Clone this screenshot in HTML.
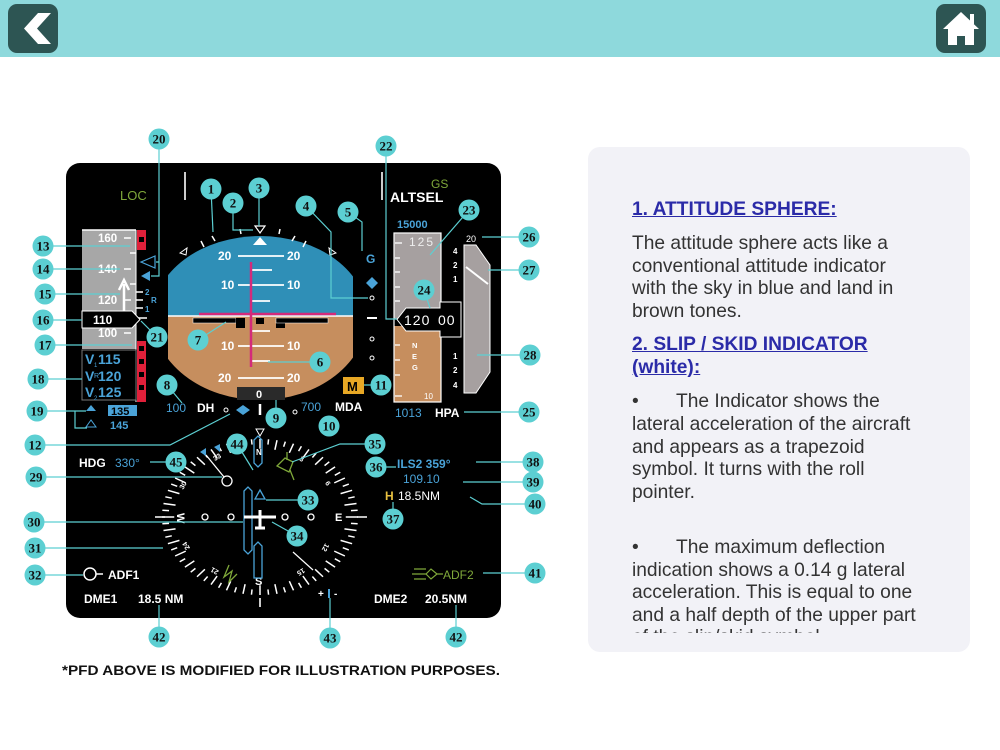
<!DOCTYPE html>
<html><head><meta charset="utf-8"><style>
html,body{margin:0;padding:0;width:1000px;height:750px;overflow:hidden;background:#fff;font-family:"Liberation Sans",sans-serif}
#bar{position:absolute;left:0;top:0;width:1000px;height:57px;background:#8ed9dc}
.btn{position:absolute;top:4px;width:50px;height:49px;background:#2d5553;border-radius:9px}
#panel{position:absolute;left:588px;top:147px;width:382px;height:505px;background:#f2f2f7;border-radius:12px;overflow:hidden}
#txt{position:absolute;left:44px;top:51px;width:290px;height:435px;overflow:hidden;font-size:19.2px;line-height:22.6px;color:#333}
h3{margin:0;font-size:19.2px;line-height:23px;color:#2b2ba8;text-decoration:underline;font-weight:bold}
p{margin:0}
svg{position:absolute;left:0;top:0}
</style></head><body>
<div id="bar"></div>
<div class="btn" style="left:8px"><svg width="50" height="49" viewBox="0 0 50 49"><polygon points="30,9 43,9 29,24.5 43,40 30,40 16,24.5" fill="#fff"/></svg></div>
<div class="btn" style="left:936px"><svg width="50" height="49" viewBox="0 0 50 49"><polygon points="25,8 43,25 38,25 38,41 29,41 29,32 21,32 21,41 12,41 12,25 7,25" fill="#fff"/><rect x="34" y="10" width="4" height="10" fill="#fff"/></svg></div>
<div id="panel"><div id="txt">
<h3 style="margin-bottom:12px">1. ATTITUDE SPHERE:</h3>
<p>The attitude sphere acts like a conventional attitude indicator with the sky in blue and land in brown tones.</p>
<h3 style="margin-top:10px;margin-bottom:12px">2. SLIP / SKID INDICATOR (white):</h3>
<p>•&nbsp;&nbsp;&nbsp;&nbsp;&nbsp;&nbsp;&nbsp;The Indicator shows the lateral acceleration of the aircraft and appears as a trapezoid symbol. It turns with the roll pointer.</p>
<p>&nbsp;</p>
<p style="margin-top:10px">•&nbsp;&nbsp;&nbsp;&nbsp;&nbsp;&nbsp;&nbsp;The maximum deflection indication shows a 0.14 g lateral acceleration. This is equal to one and a half depth of the upper part of the slip/skid symbol (trapezoid).</p>
</div></div>

<svg width="1000" height="750" viewBox="0 0 1000 750" font-family="Liberation Sans, sans-serif">
<defs>
<clipPath id="sph"><rect x="168" y="200" width="185" height="220"/></clipPath>
</defs>
<rect x="66" y="163" width="435" height="455" rx="14" fill="#000"/>
<text x="120" y="200" fill="#7fa83a" font-size="13">LOC</text>
<line x1="185" y1="172" x2="185" y2="200" stroke="#ccc" stroke-width="2"/>
<line x1="382" y1="172" x2="382" y2="200" stroke="#ccc" stroke-width="2"/>
<text x="431" y="188" fill="#7fa83a" font-size="12">GS</text>
<text x="390" y="202" fill="#fff" font-size="14" font-weight="bold">ALTSEL</text>

<g clip-path="url(#sph)">
<path d="M153,316 A107,80 0 0 1 367,316 Z" fill="#2f8fb7"/>
<path d="M153,316 A107,84 0 0 0 367,316 Z" fill="#c68e5e"/>
</g>
<line x1="168" y1="316" x2="353" y2="316" stroke="#fff" stroke-width="1.5"/>
<g stroke="#fff" stroke-width="1.8">
<line x1="238" y1="256" x2="284" y2="256"/><line x1="252" y1="270" x2="272" y2="270"/>
<line x1="238" y1="285" x2="284" y2="285"/><line x1="252" y1="301" x2="270" y2="301"/>
<line x1="252" y1="331" x2="270" y2="331"/><line x1="238" y1="346" x2="284" y2="346"/>
<line x1="252" y1="361" x2="270" y2="361"/><line x1="238" y1="378" x2="284" y2="378"/>
</g>
<g fill="#fff" font-size="12" font-weight="bold">
<text x="218" y="260">20</text><text x="287" y="260">20</text>
<text x="221" y="289">10</text><text x="287" y="289">10</text>
<text x="221" y="350">10</text><text x="287" y="350">10</text>
<text x="218" y="382">20</text><text x="287" y="382">20</text>
</g>
<line x1="251" y1="262" x2="251" y2="367" stroke="#d42a7a" stroke-width="2.5"/>
<line x1="199" y1="314" x2="336" y2="314" stroke="#d42a7a" stroke-width="2.5"/>
<rect x="193" y="318" width="43" height="5" fill="#000" stroke="#fff" stroke-width=".5"/>
<rect x="236" y="318" width="9" height="10" fill="#000"/>
<rect x="256" y="318" width="8" height="6" fill="#000"/>
<rect x="276" y="318" width="9" height="10" fill="#000"/>
<rect x="276" y="318" width="52" height="5" fill="#000" stroke="#fff" stroke-width=".5"/>
<rect x="237" y="387" width="48" height="13" fill="#2a2a2a"/>
<text x="256" y="398" fill="#fff" font-size="11" font-weight="bold">0</text>
<g stroke="#fff" stroke-width="1.5">
<line x1="201" y1="241" x2="204" y2="247"/><line x1="212" y1="236" x2="215" y2="241"/>
<line x1="306" y1="241" x2="303" y2="247"/><line x1="295" y1="236" x2="292" y2="241"/>
<line x1="280" y1="229" x2="279" y2="234"/><line x1="240" y1="229" x2="241" y2="234"/>
</g>
<polygon points="180,253 187,248 186,255" fill="none" stroke="#fff"/>
<polygon points="336,253 329,248 330,255" fill="none" stroke="#fff"/>
<polygon points="255,226 265,226 260,233" fill="none" stroke="#fff" stroke-width="1.2"/>
<polygon points="260,237 253,245 267,245" fill="#fff"/>
<text x="366" y="263" fill="#4aa3d8" font-size="12" font-weight="bold">G</text>
<path d="M372,277 l6,6 -6,6 -6,-6 z" fill="#4aa3d8"/>
<g fill="none" stroke="#fff" stroke-width="1"><circle cx="372" cy="298" r="2"/><circle cx="372" cy="339" r="2"/><circle cx="372" cy="358" r="2"/></g>
<line x1="367" y1="318" x2="377" y2="318" stroke="#fff" stroke-width="2"/>
<rect x="343" y="377" width="21" height="17" fill="#e8a825"/>
<text x="347" y="391" fill="#000" font-size="13" font-weight="bold">M</text>
<text x="166" y="412" fill="#4aa3d8" font-size="12">100</text><text x="197" y="412" fill="#fff" font-size="12" font-weight="bold">DH</text>
<circle cx="226" cy="410" r="2" fill="none" stroke="#fff"/>
<path d="M243,405 l7,5 -7,5 -7,-5 z" fill="#4aa3d8"/>
<line x1="260" y1="404" x2="260" y2="415" stroke="#fff" stroke-width="2.5"/>
<circle cx="295" cy="412" r="2" fill="none" stroke="#fff"/>
<text x="301" y="411" fill="#4aa3d8" font-size="12">700</text><text x="335" y="411" fill="#fff" font-size="12" font-weight="bold">MDA</text>

<rect x="82" y="230" width="54" height="119" fill="#a7a7a7"/>
<line x1="82" y1="230" x2="136" y2="230" stroke="#fff" stroke-width="1.5"/>
<line x1="136" y1="230" x2="136" y2="402" stroke="#fff" stroke-width="1"/>
<rect x="137" y="230" width="9" height="20" fill="#e0203a"/><rect x="139" y="237" width="5" height="5" fill="#000"/>
<rect x="137" y="341" width="9" height="61" fill="#e0203a"/>
<g fill="#000"><rect x="139" y="346" width="5" height="5"/><rect x="139" y="359" width="5" height="5"/><rect x="139" y="372" width="5" height="5"/><rect x="139" y="385" width="5" height="5"/></g>
<g fill="#fff" font-size="11.5" font-weight="bold">
<text x="98" y="242">160</text><text x="98" y="273">140</text><text x="98" y="304">120</text><text x="98" y="337">100</text>
</g>
<g stroke="#fff" stroke-width="1.5">
<line x1="124" y1="238" x2="131" y2="238"/><line x1="130" y1="253" x2="136" y2="253"/><line x1="124" y1="269" x2="131" y2="269"/><line x1="130" y1="284" x2="136" y2="284"/>
<line x1="124" y1="300" x2="131" y2="300"/><line x1="124" y1="333" x2="131" y2="333"/>
<line x1="136" y1="292" x2="143" y2="292"/><line x1="136" y1="300" x2="143" y2="300"/><line x1="136" y1="308" x2="143" y2="308"/><line x1="136" y1="318" x2="147" y2="318"/>
</g>
<path d="M124,320 V284 M119,290 L124,280 L129,290" stroke="#fff" stroke-width="2.5" fill="none"/>
<text x="145" y="295" fill="#4aa3d8" font-size="8" font-weight="bold">2</text><text x="151" y="303" fill="#4aa3d8" font-size="8" font-weight="bold">R</text><text x="145" y="312" fill="#4aa3d8" font-size="8" font-weight="bold">1</text>
<polygon points="141,262 155,256 155,268" fill="none" stroke="#4aa3d8" stroke-width="1.2"/>
<polygon points="141,276 150,271 150,281" fill="#4aa3d8"/>
<path d="M82,311 H132 L140,319.5 L132,328 H82 Z" fill="#000" stroke="#fff" stroke-width="1"/>
<text x="93" y="324" fill="#fff" font-size="12" font-weight="bold">110</text>
<rect x="82" y="350" width="54" height="50" fill="#000" stroke="#777" stroke-width="1"/>
<g fill="#4aa3d8" font-size="14" font-weight="bold"><text x="85" y="364">V</text><text x="98" y="364">115</text><text x="85" y="381">V</text><text x="98" y="381">120</text><text x="85" y="397">V</text><text x="98" y="397">125</text></g>
<text x="94" y="367" fill="#4aa3d8" font-size="6">1</text><text x="94" y="378" fill="#4aa3d8" font-size="7">R</text><text x="94" y="400" fill="#4aa3d8" font-size="6">2</text>
<polygon points="91,405 86,411 96,411" fill="#4aa3d8"/><polygon points="91,420 86,427 96,427" fill="none" stroke="#4aa3d8"/>
<rect x="108" y="405" width="29" height="11" fill="#4aa3d8"/>
<text x="111" y="415" fill="#000" font-size="11" font-weight="bold">135</text>
<text x="110" y="429" fill="#4aa3d8" font-size="11" font-weight="bold">145</text>

<text x="397" y="228" fill="#4aa3d8" font-size="11" font-weight="bold">15000</text>
<rect x="394" y="233" width="47" height="86" fill="#a6a0a0"/>
<rect x="394" y="326" width="47" height="76" fill="#c68e5e"/>
<rect x="394" y="233" width="47" height="169" fill="none" stroke="#fff" stroke-width="1.2"/>
<text x="409" y="246" fill="#eee" font-size="12" letter-spacing="2">125</text>
<g stroke="#fff" stroke-width="1.3"><line x1="395" y1="243" x2="402" y2="243"/><line x1="395" y1="258" x2="400" y2="258"/><line x1="395" y1="272" x2="400" y2="272"/><line x1="395" y1="287" x2="400" y2="287"/><line x1="395" y1="301" x2="400" y2="301"/><line x1="395" y1="345" x2="400" y2="345"/><line x1="395" y1="360" x2="400" y2="360"/><line x1="395" y1="375" x2="400" y2="375"/><line x1="395" y1="396" x2="402" y2="396"/></g>
<g fill="#fff" font-size="7.5" font-weight="bold"><text x="412" y="348">N</text><text x="412" y="359">E</text><text x="412" y="370">G</text></g>
<text x="424" y="399" fill="#fff" font-size="8">10</text>
<path d="M397,319.5 L406,308 H440 V302 H461 V337 H440 V331 H406 Z" fill="#000" stroke="#fff" stroke-width="1"/>
<text x="404" y="325" fill="#fff" font-size="14" letter-spacing="1">120</text><text x="438" y="325" fill="#fff" font-size="14" letter-spacing="1">00</text>
<text x="395" y="417" fill="#4aa3d8" font-size="12">1013</text><text x="435" y="417" fill="#fff" font-size="12" font-weight="bold">HPA</text>
<text x="466" y="242" fill="#fff" font-size="9">20</text>
<path d="M464,245 H476 L490,265 V372 L476,393 H464 Z" fill="#a6a0a0" stroke="#fff" stroke-width="1"/>
<line x1="466" y1="267" x2="488" y2="284" stroke="#fff" stroke-width="2"/>
<g fill="#fff" font-size="8" font-weight="bold"><text x="453" y="254">4</text><text x="453" y="268">2</text><text x="453" y="282">1</text><text x="453" y="359">1</text><text x="453" y="373">2</text><text x="453" y="388">4</text></g>

<g id="comp" stroke="#fff" stroke-width="1.5"></g>
<polygon points="256,429 264,429 260,436" fill="none" stroke="#fff"/>
<line x1="260" y1="598" x2="260" y2="607" stroke="#ccc" stroke-width="2"/>
<line x1="155" y1="517" x2="165" y2="517" stroke="#fff" stroke-width="1.5"/><line x1="357" y1="517" x2="367" y2="517" stroke="#fff" stroke-width="1.5"/>
<g fill="#fff" font-size="11" font-weight="bold">
<text x="256" y="455" font-size="8">N</text><text x="255" y="585">S</text>
<text x="335" y="521">E</text><text x="176" y="522" transform="rotate(90 181 518)">W</text>
<text x="178" y="487" font-size="7" transform="rotate(-60 183 484)">30</text>
<text x="213" y="460" font-size="7" transform="rotate(-30 216 457)">33</text>
<text x="300" y="462" font-size="7" transform="rotate(30 303 459)">3</text>
<text x="326" y="487" font-size="7" transform="rotate(60 329 484)">6</text>
<text x="322" y="551" font-size="7" transform="rotate(120 326 548)">12</text>
<text x="299" y="575" font-size="7" transform="rotate(150 302 572)">15</text>
<text x="212" y="575" font-size="7" transform="rotate(-150 215 572)">21</text>
<text x="183" y="550" font-size="7" transform="rotate(-120 186 547)">24</text>
</g>
<g fill="none" stroke="#fff" stroke-width="1.3">
<circle cx="205" cy="517" r="3"/><circle cx="231" cy="517" r="3"/><circle cx="285" cy="517" r="3"/><circle cx="311" cy="517" r="3"/>
<circle cx="227" cy="481" r="5"/><line x1="224" y1="477" x2="206" y2="455"/>
</g>
<path d="M254,440 l4,-4 4,4 v23 l-4,4 -4,-4z" fill="none" stroke="#4aa3d8" stroke-width="1.3"/>
<path d="M254,546 l4,-4 4,4 v32 h-8z" fill="none" stroke="#4aa3d8" stroke-width="1.3"/>
<path d="M244,491 l4,-4 4,4 v59 l-4,4 -4,-4z" fill="none" stroke="#4aa3d8" stroke-width="1.3"/>
<polygon points="260,490 255,499 265,499" fill="none" stroke="#4aa3d8" stroke-width="1.3"/>
<path d="M244,517 H276 M260,510 V528 M255,528 H265" stroke="#fff" stroke-width="3"/>
<polygon points="200,452 206,448 206,456" fill="#4aa3d8"/><polygon points="214,447 220,444 220,452" fill="#4aa3d8"/>
<path d="M277,466 l8,-8 8,4 -4,10z M287,452 V460 M290,470 l4,10" fill="none" stroke="#7fa83a" stroke-width="1.3"/>
<path d="M229,565 l-5,12 8,-6 -3,11 8,-8" fill="none" stroke="#7fa83a" stroke-width="1.3"/>
<line x1="293" y1="552" x2="313" y2="570" stroke="#fff" stroke-width="1.2"/>
<text x="79" y="467" fill="#fff" font-size="12" font-weight="bold">HDG</text><text x="115" y="467" fill="#4aa3d8" font-size="12">330°</text>
<text x="397" y="468" fill="#4aa3d8" font-size="12" font-weight="bold">ILS2 359°</text>
<text x="403" y="483" fill="#4aa3d8" font-size="12">109.10</text>
<text x="385" y="500" fill="#e8c040" font-size="12" font-weight="bold">H</text><text x="398" y="500" fill="#fff" font-size="12">18.5NM</text>
<circle cx="90" cy="574" r="6" fill="none" stroke="#fff" stroke-width="1.5"/><line x1="96" y1="574" x2="103" y2="574" stroke="#fff" stroke-width="1.5"/>
<text x="108" y="579" fill="#fff" font-size="12" font-weight="bold">ADF1</text>
<path d="M412,574 h14 l5,-5 6,5 -6,5 -5,-5 M437,574 h6 M414,569 h12 M414,579 h12" fill="none" stroke="#7fa83a" stroke-width="1.2"/>
<text x="443" y="579" fill="#7fa83a" font-size="12">ADF2</text>
<text x="84" y="603" fill="#fff" font-size="12" font-weight="bold">DME1</text><text x="138" y="603" fill="#fff" font-size="12" font-weight="bold">18.5 NM</text>
<text x="374" y="603" fill="#fff" font-size="12" font-weight="bold">DME2</text><text x="425" y="603" fill="#fff" font-size="12" font-weight="bold">20.5NM</text>
<text x="318" y="597" fill="#fff" font-size="10" font-weight="bold">+</text><line x1="329" y1="589" x2="329" y2="598" stroke="#4aa3d8" stroke-width="2"/><text x="334" y="597" fill="#fff" font-size="10" font-weight="bold">-</text>

<g stroke="#5ccfd2" stroke-width="1.2" fill="none">
<path d="M211,189 L213,232"/><path d="M233,203 V230 H253"/><path d="M259,188 V226"/><path d="M306,206 L331,232 V298 H368"/>
<path d="M348,212 L362,222 V251"/><path d="M320,362 H268"/><path d="M198,340 L226,322"/><path d="M167,385 L182,403"/>
<path d="M276,418 V400"/><path d="M329,426 V416"/><path d="M381,385 H364"/><path d="M35,445 H170 L230,414"/>
<path d="M43,246 H130"/><path d="M43,269 H120"/><path d="M45,294 H120"/><path d="M43,320 H82"/><path d="M45,345 H132"/>
<path d="M38,379 H82"/><path d="M37,411 H75 V428 H87 M75,411 H86"/><path d="M159,139 V262 H156 M159,262 V276 H151"/>
<path d="M157,337 L141,321"/><path d="M386,146 V319 H397"/><path d="M469,210 L430,255"/><path d="M424,290 L430,308"/>
<path d="M529,412 H464"/><path d="M529,237 H482"/><path d="M529,270 H488"/><path d="M530,355 H477"/>
<path d="M36,477 H222"/><path d="M34,522 H243"/><path d="M35,548 H163"/><path d="M35,575 H83"/>
<path d="M308,500 H266"/><path d="M297,536 L272,522"/><path d="M375,444 H340 L292,462"/><path d="M376,467 H396"/>
<path d="M393,519 V502"/><path d="M533,462 H476"/><path d="M533,482 H463"/><path d="M535,504 H482 L470,497"/>
<path d="M535,573 H483"/><path d="M159,637 V605"/><path d="M456,637 V605"/><path d="M330,638 V598"/>
<path d="M237,444 L253,470"/><path d="M176,462 H150"/>
</g>
<g id="callouts"></g>
<text x="62" y="675" fill="#111" font-size="13.5" font-weight="bold" textLength="438" lengthAdjust="spacingAndGlyphs">*PFD ABOVE IS MODIFIED FOR ILLUSTRATION PURPOSES.</text>
</svg>
<script>
var ns="http://www.w3.org/2000/svg";
var g=document.getElementById("comp");
for(var d=0;d<360;d+=5){var a=d*Math.PI/180,L=(d%10==0)?11:6;var s=Math.sin(a),c=-Math.cos(a);
var l=document.createElementNS(ns,"line");var ro=1,ri=1-L/88;
l.setAttribute("x1",260+98*s*ro);l.setAttribute("y1",517+78*c*ro);l.setAttribute("x2",260+98*s*ri);l.setAttribute("y2",517+78*c*ri);g.appendChild(l);}
var C=[[1,211,189],[2,233,203],[3,259,188],[4,306,206],[5,348,212],[6,320,362],[7,198,340],[8,167,385],[9,276,418],[10,329,426],[11,381,385],[12,35,445],[13,43,246],[14,43,269],[15,45,294],[16,43,320],[17,45,345],[18,38,379],[19,37,411],[20,159,139],[21,157,337],[22,386,146],[23,469,210],[24,424,290],[25,529,412],[26,529,237],[27,529,270],[28,530,355],[29,36,477],[30,34,522],[31,35,548],[32,35,575],[33,308,500],[34,297,536],[35,375,444],[36,376,467],[37,393,519],[38,533,462],[39,533,482],[40,535,504],[41,535,573],[42,159,637],[42,456,637],[43,330,638],[44,237,444],[45,176,462]];
var cg=document.getElementById("callouts");
C.forEach(function(k){var ci=document.createElementNS(ns,"circle");ci.setAttribute("cx",k[1]);ci.setAttribute("cy",k[2]);ci.setAttribute("r",10.5);ci.setAttribute("fill","#5ccfd2");cg.appendChild(ci);
var t=document.createElementNS(ns,"text");t.setAttribute("x",k[1]);t.setAttribute("y",k[2]+4.5);t.setAttribute("text-anchor","middle");t.setAttribute("font-family","Liberation Serif, serif");t.setAttribute("font-weight","bold");t.setAttribute("font-size","13");t.setAttribute("fill","#111");t.textContent=k[0];cg.appendChild(t);});
</script>
</body></html>
